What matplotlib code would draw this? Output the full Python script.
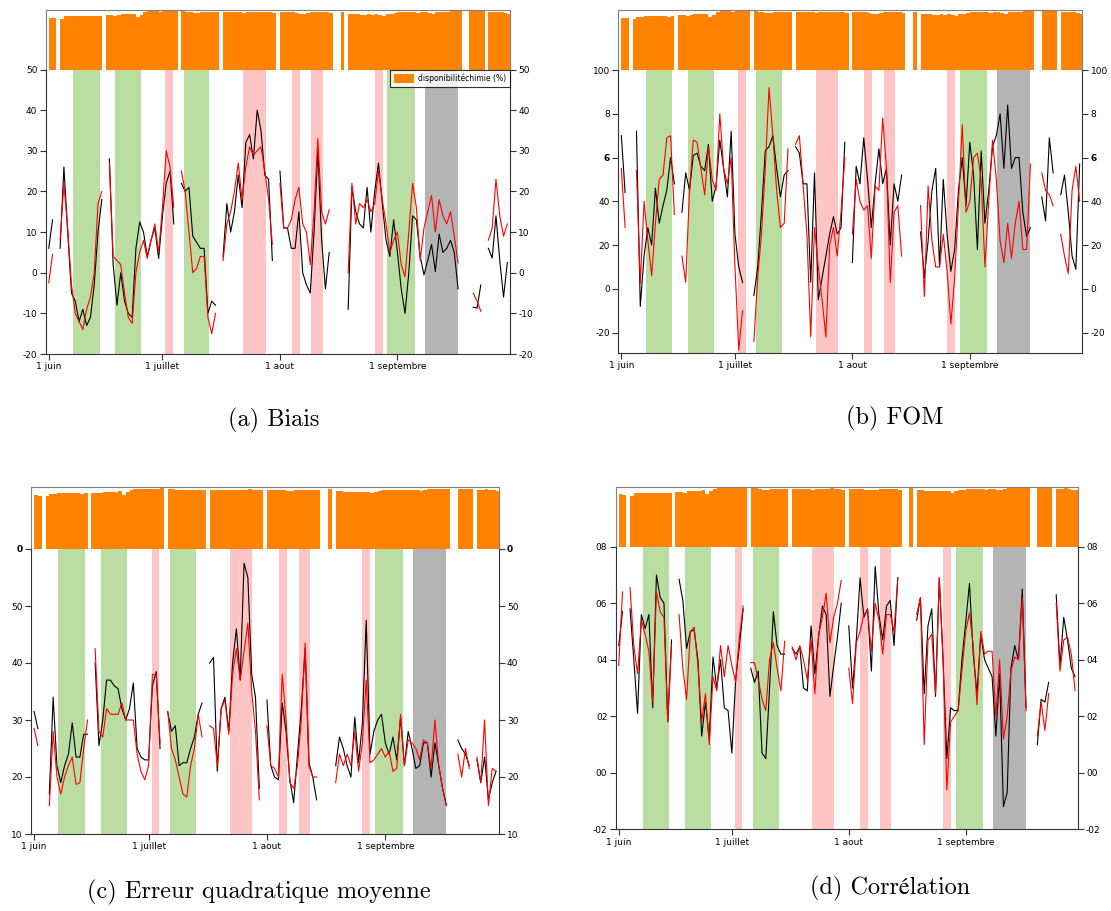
import matplotlib.pyplot as plt
import numpy as np
from matplotlib.patches import Patch

nan = np.nan

# day index 0 = 1 juin, 121 = 30 septembre
days = np.arange(122)
month_ticks = [0, 30, 61, 92]
month_labels = ["1 juin", "1 juillet", "1 aout", "1 septembre"]

# daily availability of the chemistry data (%), 0 = missing day
availability = [
    88, 87, 0, 86, 90, 90, 91, 91, 91, 91,
    91, 91, 90, 91, 0, 92, 92, 91, 93, 94,
    94, 94, 95, 89, 93, 97, 99, 99, 99, 98,
    99, 99, 99, 100, 0, 99, 98, 97, 96, 96,
    97, 97, 97, 97, 97, 0, 97, 97, 97, 97,
    97, 96, 97, 97, 97, 97, 98, 97, 97, 96,
    0, 97, 97, 97, 97, 96, 95, 95, 96, 97,
    97, 97, 97, 97, 96, 0, 0, 98, 0, 95,
    95, 94, 93, 93, 94, 93, 94, 93, 91, 94,
    95, 96, 97, 97, 97, 97, 97, 96, 97, 97,
    96, 95, 97, 98, 98, 98, 99, 99, 99, 0,
    0, 99, 99, 99, 99, 0, 97, 97, 98, 97,
    96, 95,
]

# event periods (day index)
green_periods = [(6.4, 13.4), (17.6, 24.4), (35.6, 42.4), (89.3, 96.6)]
pink_periods = [(30.8, 32.8), (51.3, 57.2), (64.1, 66.2), (69.3, 72.3), (86.0, 88.1)]
gray_periods = [(99.3, 107.9)]

bias_black = [
    6, 13, nan, 6, 26, 10, -5, -7, -12, -9,
    -13, -11, -3, 10, 18, nan, 28, 2, -8, 0,
    -7, -10, -11, 6, 12.5, 10, 4, 8, 11, 3.5,
    14, 22, 25, 12, nan, 22, 20, 21, 9, 7.5,
    6, 6, -10, -7, -8, nan, 4, 17, 10, 15,
    24, 16, 32, 34, 28, 40, 35, 24, 23, 3,
    nan, 25, 11, 11, 6, 6, 15, 0, -3, -5,
    10, 30, 8, -4, 5, nan, nan, nan, nan, -9,
    21, 15, 12, 11, 21, 10, 20, 27, 17, 8,
    4, 13, 5, -4, -10, 0, 14, 13, 4, -0.5,
    3, 7, 0.3, 9.5, 5, 6, 8, 5, -4, nan,
    nan, nan, -8.5, -8.7, -3, nan, 6, 3.6, 14, 3,
    -6, 2.5,
]
bias_red = [
    -2.5, 4.5, nan, 8, 22, 11, -3, -10, -12, -14,
    -9, -6, 0, 17, 20, nan, 27, 4, 3, 2,
    -5, -11, -12.5, 0, 5, 8, 3.5, 8, 12, 5,
    16, 30, 26, 16, nan, 25, 20, 10, 0, 1,
    4, 4, -11, -15, -10, nan, 3, 12, 15, 20,
    27, 18, 26, 31, 29, 30, 31, 25, 18, 7,
    nan, 22, 11, 11, 13, 18, 21, 12, 10, 2,
    15, 33, 15, 12, 15.5, nan, nan, nan, nan, 0,
    22, 12, 17, 16, 18, 15, 17, 25, 18, 12,
    5, 8, 10, 2, -1, 10, 22, 16, 3, 11,
    15, 19, 10, 18, 14, 12, 15, 9, 2.4, nan,
    nan, nan, -5, -7, -9.5, nan, 8, 11, 23, 14,
    9, 12,
]

fom_black = [
    70, 44, nan, nan, 72, -8, 15, 28, 20, 46,
    30, 38, 45, 60, 48, nan, 35, 53, 45, 61,
    62, 56, 54, 66, 40, 47, 68, 55, 42, 72,
    25, 10, 3, nan, nan, -3, 10, 35, 63, 65,
    70, 55, 42, 52, 54, nan, 65, 62, 48, 48,
    3, 53, -5, 5, 15, 25, 33, 25, 28, 67,
    nan, 12, 56, 48, 69, 50, 28, 48, 64, 48,
    55, 20, 48, 40, 52, nan, nan, nan, nan, 26,
    5, 22, 45, 55, 10, 50, 25, 8, 18, 45,
    60, 38, 67, 52, 18, 63, 30, 45, 65, 70,
    80, 55, 84, 55, 60, 60, 35, 24, 28, nan,
    nan, 42, 31, 69, 53, nan, 43, 52, 35, 15,
    9, 57,
]
fom_red = [
    55, 28, nan, nan, 54, 2.5, 40, 22, 6, 30,
    50, 52, 69, 70, 34, nan, 15, 3, 45, 68,
    67, 55, 43, 65, 50, 45, 80, 55, 48, 60,
    10, -28, -10, nan, nan, -24, 5, 25, 55, 92,
    70, 45, 28, 30, 64, nan, 66, 70, 47, 25,
    -22, 28, 10, -5, -22, 20, 28, 15, 35, 60,
    nan, 25, 50, 40, 36, 38, 14, 47, 45, 78,
    55, 3, 35, 38, 15, nan, nan, nan, nan, 38,
    -3.5, 47, 22, 10, 10, 25, 8, -16, 5, 38,
    75, 35, 40, 60, 62, 50, 10, 40, 68, 50,
    22, 12, 30, 14, 30, 40, 18, 18, 57, nan,
    nan, 53, 45, 43, 38, nan, 25, 15, 7, 45,
    56, 40,
]

rmse_black = [
    31.5, 28.5, nan, nan, 17, 34, 22, 19, 22, 24,
    29.5, 23.5, 23.5, 27.5, 27.5, nan, 40, 25.5, 30, 37,
    37, 36, 35.5, 32, 30, 32, 36.5, 25, 23.5, 23,
    23, 36, 38.5, 25, nan, 31.5, 28, 29, 22, 22.5,
    22.5, 25, 27, 31, 33, nan, 40, 41, 21, 32,
    34, 28, 40, 46, 37, 57.5, 55, 38, 34, 18,
    nan, 33.5, 22, 20, 19.5, 33, 28, 19.5, 15.5, 24,
    32, 42.5, 22.5, 20, 16, nan, nan, nan, nan, 22,
    27, 25, 22, 20, 30.5, 22.5, 29.5, 47.5, 24, 28,
    30, 31, 26, 24, 27, 23, 30.5, 22, 28, 25,
    21.5, 22, 26, 26, 20, 26, 22, 18, 15, nan,
    nan, 26.5, 25, 24, 22, nan, 23, 19, 23.5, 16,
    19, 21,
]
rmse_red = [
    28.5, 25.5, nan, nan, 15, 28, 20, 17, 20, 22,
    23.5, 18.7, 19, 25, 30, nan, 42.5, 28, 27, 32,
    31, 31, 31, 33, 30, 30, 30, 24, 21, 19.5,
    22, 38, 38, 26, nan, 31.5, 25, 23, 20, 17,
    16.5, 22, 25, 31, 27, nan, 29, 28.5, 22, 32,
    33.5, 27.5, 38, 42.5, 37, 42, 47, 35, 28, 16,
    nan, 29, 22, 21.5, 20, 38, 30, 19, 18, 22,
    30, 43.5, 22, 20, 20, nan, nan, nan, nan, 19,
    24, 22, 24, 22, 28, 21, 26, 37, 22.5, 23,
    24, 25, 23.5, 24.5, 21, 21.5, 31, 22, 26.5, 26,
    25, 23, 26.5, 26, 21.5, 30, 22, 18, 15, nan,
    nan, 24, 20, 25, 21.5, nan, 23.5, 19, 30, 15,
    21.5, 21,
]

corr_black = [
    0.45, 0.57, nan, 0.58, 0.40, 0.21, 0.56, 0.51, 0.56, 0.23,
    0.70, 0.62, 0.60, 0.18, 0.47, nan, 0.685, 0.61, 0.44, 0.50,
    0.505, 0.40, 0.13, 0.25, 0.12, 0.41, 0.30, 0.40, 0.23, 0.22,
    0.07, 0.33, 0.45, 0.58, nan, 0.37, 0.32, 0.36, 0.07, 0.05,
    0.30, 0.57, 0.45, 0.42, 0.42, nan, 0.44, 0.42, 0.445, 0.30,
    0.29, 0.52, 0.35, 0.48, 0.59, 0.56, 0.27, 0.38, 0.48, 0.60,
    nan, 0.52, 0.30, 0.47, 0.69, 0.55, 0.58, 0.36, 0.73, 0.56,
    0.47, 0.59, 0.61, 0.45, 0.69, nan, nan, nan, nan, 0.54,
    0.62, 0.28, 0.52, 0.58, 0.27, 0.69, 0.40, 0.05, 0.23, 0.22,
    0.22, 0.40, 0.53, 0.67, 0.42, 0.28, 0.49, 0.40, 0.37, 0.34,
    0.13, 0.35, -0.12, -0.07, 0.37, 0.45, 0.40, 0.65, 0.23, nan,
    nan, 0.10, 0.26, 0.25, 0.32, nan, 0.63, 0.38, 0.55, 0.47,
    0.37, 0.34,
]
corr_red = [
    0.38, 0.64, nan, 0.655, 0.45, 0.35, 0.54, 0.49, 0.43, 0.25,
    0.64, 0.57, 0.55, 0.18, 0.45, nan, 0.56, 0.37, 0.26, 0.50,
    0.515, 0.38, 0.18, 0.28, 0.10, 0.34, 0.29, 0.45, 0.34, 0.45,
    0.38, 0.32, 0.48, 0.59, nan, 0.39, 0.39, 0.33, 0.26, 0.22,
    0.40, 0.46, 0.37, 0.29, 0.465, nan, 0.445, 0.40, 0.45, 0.40,
    0.33, 0.47, 0.28, 0.49, 0.55, 0.635, 0.46, 0.55, 0.60, 0.68,
    nan, 0.37, 0.245, 0.46, 0.50, 0.56, 0.575, 0.43, 0.60, 0.54,
    0.42, 0.56, 0.56, 0.50, 0.69, nan, nan, nan, nan, 0.56,
    0.62, 0.10, 0.47, 0.49, 0.28, 0.69, 0.40, -0.06, 0.18, 0.20,
    0.22, 0.36, 0.50, 0.565, 0.45, 0.24, 0.50, 0.42, 0.43, 0.43,
    0.20, 0.40, 0.12, 0.20, 0.36, 0.41, 0.40, 0.62, 0.22, nan,
    nan, 0.13, 0.25, 0.15, 0.28, nan, 0.60, 0.36, 0.47, 0.48,
    0.42, 0.29,
]

# y ticks and their (partly clipped) labels as printed on the original
bias_ticks = [-20, -10, 0, 10, 20, 30, 40, 50]
bias_labels = ["-20", "-10", "0", "10", "20", "30", "40", "50"]
fom_ticks = [-20, 0, 20, 40, 60, 80, 100]
fom_labels = ["-20", "0", "20", "40", "6", "8", "100"]
rmse_ticks = [10, 20, 30, 40, 50, 60]
rmse_labels = ["10", "20", "30", "40", "50", "0"]
corr_ticks = [-0.2, 0.0, 0.2, 0.4, 0.6, 0.8]
corr_labels = ["-02", "00", "02", "04", "06", "08"]

COLORS = {
    "bar": "#ff8200",
    "green": "#badea2",
    "pink": "#ffc5c5",
    "gray": "#b4b4b4",
    "red": "#ff0000",
    "black": "#000000",
    "frame": "#808080",
}

CAPTION_FONT = ["cmr10", "STIXGeneral", "DejaVu Serif"]
FIG_W, FIG_H = 1111, 911


def px_rect(left, right, top, bottom):
    return [left / FIG_W, 1 - bottom / FIG_H, (right - left) / FIG_W, (bottom - top) / FIG_H]


def draw_panel(fig, box, black, red, ylim, ticks, labels, bold_label, caption, caption_xy, legend=False):
    left, right, bar_top, main_top, main_bottom = box
    xlim = (-0.8, 121.7)

    # availability bars on top
    ax_bar = fig.add_axes(px_rect(left, right, bar_top, main_top))
    ax_bar.stairs(availability, np.arange(len(availability) + 1), fill=True,
                  color=COLORS["bar"], linewidth=0)
    ax_bar.set_xlim(*xlim)
    ax_bar.set_ylim(0, 101)
    ax_bar.set_xticks([])
    ax_bar.set_yticks([])
    for spine in ax_bar.spines.values():
        spine.set_color(COLORS["frame"])
        spine.set_linewidth(0.8)

    # score time series with the event periods behind
    ax = fig.add_axes(px_rect(left, right, main_top, main_bottom))
    for start, end in green_periods:
        ax.axvspan(start, end, color=COLORS["green"], lw=0, zorder=0)
    for start, end in pink_periods:
        ax.axvspan(start, end, color=COLORS["pink"], lw=0, zorder=0)
    for start, end in gray_periods:
        ax.axvspan(start, end, color=COLORS["gray"], lw=0, zorder=0)
    ax.plot(days, black, color=COLORS["black"], lw=0.8, zorder=2)
    ax.plot(days, red, color=COLORS["red"], lw=0.8, zorder=3)
    ax.set_xlim(*xlim)
    ax.set_ylim(*ylim)
    ax.set_xticks(month_ticks)
    ax.set_xticklabels(month_labels)
    ax.set_yticks(ticks)
    ax.set_yticklabels(labels)
    ax.tick_params(axis="both", direction="out", length=4, width=0.8, color="#333333",
                   labelsize=6.5, pad=2)
    ax.tick_params(axis="y", left=True, right=True, labelleft=True, labelright=True)
    for tick in ax.yaxis.get_major_ticks():
        if tick.label1.get_text() == bold_label:
            tick.label1.set_fontweight("bold")
            tick.label2.set_fontweight("bold")
    for side in ("left", "right", "bottom"):
        ax.spines[side].set_color("#333333")
        ax.spines[side].set_linewidth(0.8)
    ax.spines["top"].set_visible(False)

    if legend:
        handle = Patch(facecolor=COLORS["bar"], edgecolor="none", label="disponibilitéchimie (%)")
        leg = ax.legend(handles=[handle], loc="upper right", fontsize=5.5, frameon=True,
                        fancybox=False, borderaxespad=0.05, handlelength=2.6, handleheight=1.3,
                        borderpad=0.5, handletextpad=0.5)
        leg.get_frame().set_edgecolor("black")
        leg.get_frame().set_linewidth(0.8)

    fig.text(caption_xy[0] / FIG_W, 1 - caption_xy[1] / FIG_H, caption,
             ha="center", va="center", fontsize=17.5, family=CAPTION_FONT)


def make_figure():
    fig = plt.figure(figsize=(FIG_W / 100, FIG_H / 100), dpi=100)
    fig.patch.set_facecolor("white")
    draw_panel(fig, (45.7, 510, 10, 69.5, 354), bias_black, bias_red, (-20, 50),
               bias_ticks, bias_labels, None, "(a) Biais", (274, 420), legend=True)
    draw_panel(fig, (618.3, 1082.3, 10, 70, 353), fom_black, fom_red, (-29.3, 100),
               fom_ticks, fom_labels, "6", "(b) FOM", (895, 418))
    draw_panel(fig, (31, 498.7, 487.3, 549, 834), rmse_black, rmse_red, (10, 60),
               rmse_ticks, rmse_labels, "0", "(c) Erreur quadratique moyenne", (259, 892))
    draw_panel(fig, (615.7, 1077.7, 486.7, 546.7, 829.3), corr_black, corr_red, (-0.2, 0.8),
               corr_ticks, corr_labels, None, "(d) Corrélation", (890, 888))
    return fig


def main():
    fig = make_figure()
    fig.savefig("out.png", dpi=100)
    plt.close(fig)


if __name__ == "__main__":
    main()
